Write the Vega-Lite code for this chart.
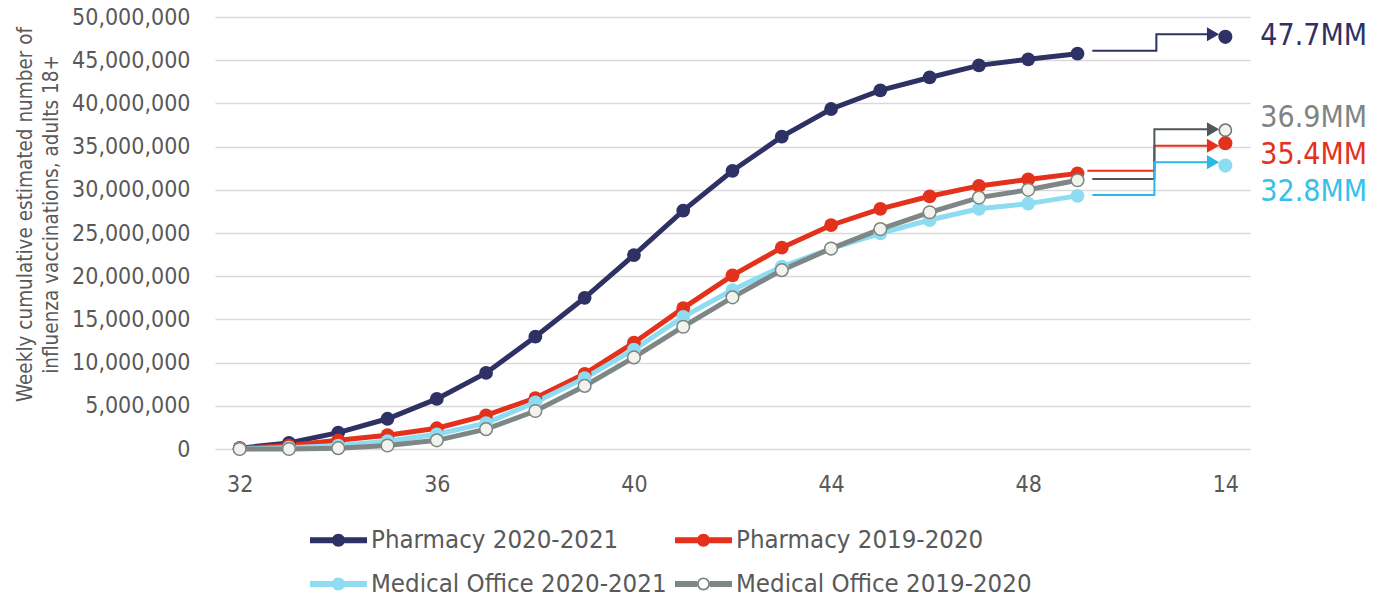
{
  "$schema": "https://vega.github.io/schema/vega-lite/v6.json",
  "width": 1035,
  "height": 432,
  "autosize": {"type": "none"},
  "padding": {"left": 215, "top": 17, "right": 130, "bottom": 150},
  "background": "white",
  "config": {
    "view": {"stroke": null},
    "font": "DejaVu Sans Condensed, DejaVu Sans",
    "axis": {"labelFont": "DejaVu Sans Condensed, DejaVu Sans", "titleFont": "DejaVu Sans Condensed, DejaVu Sans"},
    "legend": {"labelFont": "DejaVu Sans Condensed, DejaVu Sans"},
    "text": {"font": "DejaVu Sans Condensed, DejaVu Sans"}
  },
  "datasets": {
    "weekly": [
      {"series": "Pharmacy 2020-2021", "week": 32, "value": 100000},
      {"series": "Pharmacy 2020-2021", "week": 33, "value": 700000},
      {"series": "Pharmacy 2020-2021", "week": 34, "value": 1900000},
      {"series": "Pharmacy 2020-2021", "week": 35, "value": 3500000},
      {"series": "Pharmacy 2020-2021", "week": 36, "value": 5800000},
      {"series": "Pharmacy 2020-2021", "week": 37, "value": 8800000},
      {"series": "Pharmacy 2020-2021", "week": 38, "value": 13000000},
      {"series": "Pharmacy 2020-2021", "week": 39, "value": 17500000},
      {"series": "Pharmacy 2020-2021", "week": 40, "value": 22450000},
      {"series": "Pharmacy 2020-2021", "week": 41, "value": 27600000},
      {"series": "Pharmacy 2020-2021", "week": 42, "value": 32200000},
      {"series": "Pharmacy 2020-2021", "week": 43, "value": 36150000},
      {"series": "Pharmacy 2020-2021", "week": 44, "value": 39350000},
      {"series": "Pharmacy 2020-2021", "week": 45, "value": 41500000},
      {"series": "Pharmacy 2020-2021", "week": 46, "value": 43000000},
      {"series": "Pharmacy 2020-2021", "week": 47, "value": 44400000},
      {"series": "Pharmacy 2020-2021", "week": 48, "value": 45100000},
      {"series": "Pharmacy 2020-2021", "week": 49, "value": 45750000},
      {"series": "Pharmacy 2019-2020", "week": 32, "value": 100000},
      {"series": "Pharmacy 2019-2020", "week": 33, "value": 400000},
      {"series": "Pharmacy 2019-2020", "week": 34, "value": 1000000},
      {"series": "Pharmacy 2019-2020", "week": 35, "value": 1600000},
      {"series": "Pharmacy 2019-2020", "week": 36, "value": 2400000},
      {"series": "Pharmacy 2019-2020", "week": 37, "value": 3900000},
      {"series": "Pharmacy 2019-2020", "week": 38, "value": 5900000},
      {"series": "Pharmacy 2019-2020", "week": 39, "value": 8700000},
      {"series": "Pharmacy 2019-2020", "week": 40, "value": 12300000},
      {"series": "Pharmacy 2019-2020", "week": 41, "value": 16300000},
      {"series": "Pharmacy 2019-2020", "week": 42, "value": 20100000},
      {"series": "Pharmacy 2019-2020", "week": 43, "value": 23300000},
      {"series": "Pharmacy 2019-2020", "week": 44, "value": 25900000},
      {"series": "Pharmacy 2019-2020", "week": 45, "value": 27800000},
      {"series": "Pharmacy 2019-2020", "week": 46, "value": 29250000},
      {"series": "Pharmacy 2019-2020", "week": 47, "value": 30450000},
      {"series": "Pharmacy 2019-2020", "week": 48, "value": 31200000},
      {"series": "Pharmacy 2019-2020", "week": 49, "value": 31900000},
      {"series": "Medical Office 2020-2021", "week": 32, "value": 0},
      {"series": "Medical Office 2020-2021", "week": 33, "value": 150000},
      {"series": "Medical Office 2020-2021", "week": 34, "value": 400000},
      {"series": "Medical Office 2020-2021", "week": 35, "value": 900000},
      {"series": "Medical Office 2020-2021", "week": 36, "value": 1700000},
      {"series": "Medical Office 2020-2021", "week": 37, "value": 3000000},
      {"series": "Medical Office 2020-2021", "week": 38, "value": 5400000},
      {"series": "Medical Office 2020-2021", "week": 39, "value": 8200000},
      {"series": "Medical Office 2020-2021", "week": 40, "value": 11500000},
      {"series": "Medical Office 2020-2021", "week": 41, "value": 15300000},
      {"series": "Medical Office 2020-2021", "week": 42, "value": 18400000},
      {"series": "Medical Office 2020-2021", "week": 43, "value": 21100000},
      {"series": "Medical Office 2020-2021", "week": 44, "value": 23200000},
      {"series": "Medical Office 2020-2021", "week": 45, "value": 24950000},
      {"series": "Medical Office 2020-2021", "week": 46, "value": 26500000},
      {"series": "Medical Office 2020-2021", "week": 47, "value": 27800000},
      {"series": "Medical Office 2020-2021", "week": 48, "value": 28400000},
      {"series": "Medical Office 2020-2021", "week": 49, "value": 29300000},
      {"series": "Medical Office 2019-2020", "week": 32, "value": 0},
      {"series": "Medical Office 2019-2020", "week": 33, "value": 0},
      {"series": "Medical Office 2019-2020", "week": 34, "value": 100000},
      {"series": "Medical Office 2019-2020", "week": 35, "value": 400000},
      {"series": "Medical Office 2019-2020", "week": 36, "value": 1000000},
      {"series": "Medical Office 2019-2020", "week": 37, "value": 2300000},
      {"series": "Medical Office 2019-2020", "week": 38, "value": 4400000},
      {"series": "Medical Office 2019-2020", "week": 39, "value": 7300000},
      {"series": "Medical Office 2019-2020", "week": 40, "value": 10600000},
      {"series": "Medical Office 2019-2020", "week": 41, "value": 14150000},
      {"series": "Medical Office 2019-2020", "week": 42, "value": 17550000},
      {"series": "Medical Office 2019-2020", "week": 43, "value": 20700000},
      {"series": "Medical Office 2019-2020", "week": 44, "value": 23200000},
      {"series": "Medical Office 2019-2020", "week": 45, "value": 25450000},
      {"series": "Medical Office 2019-2020", "week": 46, "value": 27400000},
      {"series": "Medical Office 2019-2020", "week": 47, "value": 29100000},
      {"series": "Medical Office 2019-2020", "week": 48, "value": 30000000},
      {"series": "Medical Office 2019-2020", "week": 49, "value": 31100000}
    ],
    "ends": [
      {"series": "Pharmacy 2020-2021", "week": 52, "value": 47700000, "label": "47.7MM"},
      {"series": "Pharmacy 2019-2020", "week": 52, "value": 35400000, "label": "35.4MM"},
      {"series": "Medical Office 2020-2021", "week": 52, "value": 32800000, "label": "32.8MM"},
      {"series": "Medical Office 2019-2020", "week": 52, "value": 36900000, "label": "36.9MM"}
    ],
    "connectors": [
      {"series": "Pharmacy 2020-2021", "step": 1, "week": 49.3, "value": 46100000},
      {"series": "Pharmacy 2020-2021", "step": 2, "week": 50.6, "value": 46100000},
      {"series": "Pharmacy 2020-2021", "step": 3, "week": 50.6, "value": 48000000},
      {"series": "Pharmacy 2020-2021", "step": 4, "week": 51.75, "value": 48000000},
      {"series": "Pharmacy 2019-2020", "step": 1, "week": 49.2, "value": 32200000},
      {"series": "Pharmacy 2019-2020", "step": 2, "week": 50.56, "value": 32200000},
      {"series": "Pharmacy 2019-2020", "step": 3, "week": 50.56, "value": 35100000},
      {"series": "Pharmacy 2019-2020", "step": 4, "week": 51.75, "value": 35100000},
      {"series": "Medical Office 2019-2020", "step": 1, "week": 49.3, "value": 31250000},
      {"series": "Medical Office 2019-2020", "step": 2, "week": 50.56, "value": 31250000},
      {"series": "Medical Office 2019-2020", "step": 3, "week": 50.56, "value": 37000000},
      {"series": "Medical Office 2019-2020", "step": 4, "week": 51.75, "value": 37000000},
      {"series": "Medical Office 2020-2021", "step": 1, "week": 49.3, "value": 29400000},
      {"series": "Medical Office 2020-2021", "step": 2, "week": 50.56, "value": 29400000},
      {"series": "Medical Office 2020-2021", "step": 3, "week": 50.56, "value": 33200000},
      {"series": "Medical Office 2020-2021", "step": 4, "week": 51.75, "value": 33200000}
    ]
  },
  "encoding": {
    "x": {
      "field": "week", "type": "quantitative",
      "scale": {"domain": [31.5, 52.5], "nice": false, "zero": false},
      "axis": {
        "title": null, "values": [32, 36, 40, 44, 48, 52],
        "labelExpr": "datum.value == 52 ? '14' : datum.label",
        "grid": false, "domain": false, "ticks": false,
        "labelPadding": 24, "labelFontSize": 23, "labelColor": "#595959"
      }
    },
    "y": {
      "field": "value", "type": "quantitative",
      "scale": {"domain": [0, 50000000], "nice": false},
      "axis": {
        "title": ["Weekly cumulative estimated number of", "influenza vaccinations, adults 18+"],
        "titleFontSize": 20.5, "titleFontWeight": "normal", "titleColor": "#595959",
        "titleLineHeight": 26, "titleX": -190, "titleY": 197, "titleBaseline": "middle", "titleAlign": "center", "titleAngle": 270,
        "values": [0, 5000000, 10000000, 15000000, 20000000, 25000000, 30000000, 35000000, 40000000, 45000000, 50000000],
        "format": ",d", "grid": true, "gridColor": "#D9D9D9", "gridWidth": 1.5,
        "domain": false, "ticks": false, "labelPadding": 25,
        "labelFontSize": 23, "labelColor": "#595959"
      }
    }
  },
  "layer": [
    {
      "data": {"name": "weekly"},
      "mark": {"type": "line", "strokeWidth": 5},
      "encoding": {
        "color": {
          "field": "series", "type": "nominal",
          "scale": {
            "domain": ["Pharmacy 2020-2021", "Pharmacy 2019-2020", "Medical Office 2020-2021", "Medical Office 2019-2020"],
            "range": ["#2E3163", "#E3311B", "#8DDCF1", "#7F8786"]
          },
          "legend": {
            "orient": "none", "legendX": 95, "legendY": 510, "columns": 2, "direction": "horizontal",
            "title": null, "symbolSize": 676, "labelFontSize": 25.6, "labelColor": "#595959",
            "labelOffset": 35, "labelLimit": 500, "rowPadding": 17, "columnPadding": 8, "padding": 0,
            "encode": {
              "symbols": {
                "update": {
                  "shape": {"signal": "datum.value === 'Medical Office 2019-2020' ? 'M-1,-0.23H0.7V0.23H-1Z M1.68,-0.23H3.385V0.23H1.68Z M1.69,0A0.5,0.5 0 1,1 0.69,0A0.5,0.5 0 1,1 1.69,0Z M1.55,0A0.36,0.36 0 1,0 0.83,0A0.36,0.36 0 1,0 1.55,0Z' : 'M-1,-0.23H3.385V0.23H-1Z M1.69,0A0.5,0.5 0 1,1 0.69,0A0.5,0.5 0 1,1 1.69,0Z'"},
                  "fill": {"scale": "color", "field": "value"},
                  "stroke": {"value": "transparent"},
                  "strokeWidth": {"value": 0},
                  "opacity": {"value": 1},
                  "size": {"value": 676}
                }
              }
            }
          }
        }
      }
    },
    {
      "data": {"name": "weekly"},
      "transform": [{"filter": "datum.series !== 'Medical Office 2019-2020'"}],
      "mark": {"type": "point", "filled": true, "size": 190, "opacity": 1},
      "encoding": {"color": {"field": "series", "type": "nominal"}}
    },
    {
      "data": {"name": "weekly"},
      "transform": [{"filter": "datum.series === 'Medical Office 2019-2020'"}],
      "mark": {"type": "point", "filled": true, "fill": "#F3F3EE", "stroke": "#7D8584", "strokeWidth": 1.5, "size": 160, "opacity": 1}
    },
    {
      "data": {"name": "connectors"},
      "mark": {"type": "line", "strokeWidth": 2},
      "encoding": {
        "stroke": {
          "field": "series", "type": "nominal", "legend": null,
          "scale": {
            "domain": ["Pharmacy 2020-2021", "Pharmacy 2019-2020", "Medical Office 2020-2021", "Medical Office 2019-2020"],
            "range": ["#2E3163", "#E3311B", "#2BB8E7", "#505859"]
          }
        },
        "order": {"field": "step", "type": "quantitative"}
      }
    },
    {
      "data": {"name": "connectors"},
      "transform": [{"filter": "datum.step === 4"}],
      "mark": {"type": "point", "shape": "triangle-right", "filled": true, "size": 200, "opacity": 1},
      "encoding": {
        "fill": {
          "field": "series", "type": "nominal", "legend": null,
          "scale": {
            "domain": ["Pharmacy 2020-2021", "Pharmacy 2019-2020", "Medical Office 2020-2021", "Medical Office 2019-2020"],
            "range": ["#2E3163", "#E3311B", "#2BB8E7", "#505859"]
          }
        }
      }
    },
    {
      "data": {"name": "ends"},
      "transform": [{"filter": "datum.series !== 'Medical Office 2019-2020'"}],
      "mark": {"type": "point", "filled": true, "size": 200, "opacity": 1},
      "encoding": {"color": {"field": "series", "type": "nominal"}}
    },
    {
      "data": {"name": "ends"},
      "transform": [{"filter": "datum.series === 'Medical Office 2019-2020'"}],
      "mark": {"type": "point", "filled": true, "fill": "#F3F3EE", "stroke": "#6A7272", "strokeWidth": 1.5, "size": 150, "opacity": 1}
    },
    {
      "data": {"name": "ends"},
      "transform": [{"filter": "datum.series === 'Pharmacy 2020-2021'"}],
      "mark": {"type": "text", "align": "left", "baseline": "middle", "dx": 35, "dy": -1, "fontSize": 30, "color": "#303062"},
      "encoding": {"text": {"field": "label"}}
    },
    {
      "data": {"name": "ends"},
      "transform": [{"filter": "datum.series === 'Medical Office 2019-2020'"}],
      "mark": {"type": "text", "align": "left", "baseline": "middle", "dx": 35, "dy": -12, "fontSize": 30, "color": "#7F8585"},
      "encoding": {"text": {"field": "label"}}
    },
    {
      "data": {"name": "ends"},
      "transform": [{"filter": "datum.series === 'Pharmacy 2019-2020'"}],
      "mark": {"type": "text", "align": "left", "baseline": "middle", "dx": 35, "dy": 12, "fontSize": 30, "color": "#E3311B"},
      "encoding": {"text": {"field": "label"}}
    },
    {
      "data": {"name": "ends"},
      "transform": [{"filter": "datum.series === 'Medical Office 2020-2021'"}],
      "mark": {"type": "text", "align": "left", "baseline": "middle", "dx": 35, "dy": 26, "fontSize": 30, "color": "#36C1EB"},
      "encoding": {"text": {"field": "label"}}
    }
  ]
}
